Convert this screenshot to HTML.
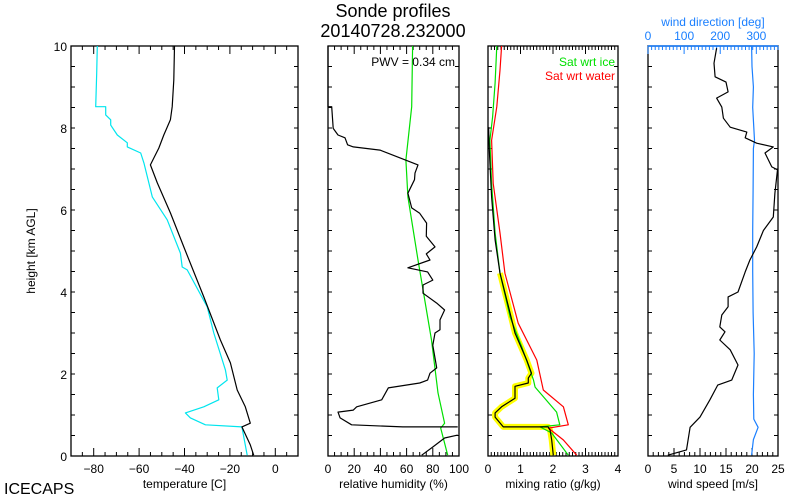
<!DOCTYPE html>
<html><head><meta charset="utf-8"><style>
body{margin:0;background:#fff}
svg{display:block;font-family:"Liberation Sans",sans-serif}
</style></head><body>
<svg id="c" width="800" height="500" viewBox="0 0 800 500">
<text x="393" y="17" font-size="18" text-anchor="middle">Sonde profiles</text>
<text x="393" y="37" font-size="18" text-anchor="middle">20140728.232000</text>
<text x="4" y="494" font-size="16">ICECAPS</text>
<text transform="translate(35,251) rotate(-90)" font-size="12" text-anchor="middle">height [km AGL]</text>
</svg>
<script>
// temperature panel
const tempH=[0.02,0.27,0.71,0.8,1.2,1.61,2.27,2.83,3.88,5.1,5.93,6.66,7.1,7.27,7.51,7.83,8.2,8.52,9.17,10];
const tempT=[-9.5,-11,-14.7,-11,-13.2,-16.8,-19.8,-24.2,-31.5,-40.3,-46.2,-52,-55,-53.5,-51.3,-49.1,-46.2,-45.4,-44.7,-44.4];
const dewH=[0.02,0.71,0.76,0.93,1.05,1.2,1.37,1.66,1.85,2.1,3.0,3.64,4.54,4.61,4.95,5.76,6.32,7.15,7.39,7.54,7.64,7.83,8.07,8.2,8.32,8.52,8.52,9.34,10];
const dewT=[-12.4,-14.7,-30.8,-37.4,-39.6,-31.5,-24.9,-25.6,-21.2,-22,-27.1,-30,-38.8,-41,-41.8,-47.6,-54.2,-57.9,-59.3,-65.2,-65.2,-69.6,-72.5,-72.5,-74.7,-74.7,-79.1,-78.7,-78.4];
// relative humidity panel
const rhH=[0.71,0.71,0.76,0.93,1.07,1.12,1.2,1.37,1.66,1.78,1.85,2.02,2.15,2.39,2.7,3.0,3.08,3.32,3.56,3.73,3.97,4.17,4.29,4.49,4.59,4.78,4.93,5.1,5.36,5.68,5.92,6.05,6.41,6.74,6.9,7.1,7.27,7.46,7.54,7.59,7.76,7.83,7.99,8.52,8.52,10];
const rhV=[99,57,18,9.2,7.6,19.3,21.9,41,46,70,76,77.9,83,81.7,80,81.7,85.5,85.5,89,83,72.5,72.5,80,76,61,77.9,75,81.7,75,75.3,70,63.9,61,66,66.4,68.7,55,39.7,19.3,15,13,7.6,4,2.8,0,0];
const rhLowH=[0.02,0.22,0.44,0.51];
const rhLowV=[71.5,80,89,99];
const rhSatH=[0.02,0.68,0.8,1.54,2.83,4.78,6.32,7.22,8.52,10];
const rhSatV=[91.4,86,89,84,79,68.7,61,59.5,63.9,64.6];
// mixing ratio panel
const mrH=[0.02,0.39,0.63,0.71,0.71,0.95,1.05,1.2,1.41,1.7,1.78,1.9,2.02,2.34,3.0,3.64,4.46,5.27,6.32,7.46,8.02];
const mrV=[2.01,1.96,1.91,1.85,0.47,0.22,0.22,0.42,0.83,0.83,1.24,1.24,1.34,1.19,0.83,0.63,0.37,0.22,0.11,0.04,0.02];
const iceH=[0.02,0.56,0.71,0.76,1.07,1.68,1.85,2.66,3.39,4.46,5.44,6.65,7.7,8.27,9.1,10];
const iceV=[2.47,1.96,1.6,2.21,2.11,1.45,1.4,1.04,0.68,0.37,0.22,0.11,0.06,0.14,0.22,0.27];
const watH=[0.02,0.39,0.68,0.76,1.2,1.61,2.34,3.24,4.46,5.44,6.65,7.7,8.52,9.41,10];
const watV=[2.73,2.32,1.86,2.47,2.32,1.7,1.5,0.93,0.52,0.37,0.16,0.11,0.27,0.37,0.42];
// wind panel
const wsH=[0.02,0.15,0.7,0.95,1.37,1.73,1.85,2.22,2.59,2.83,3.03,3.15,3.44,3.64,3.88,4.0,4.49,4.78,5.1,5.5,5.83,6.41,6.98,7.05,7.39,7.54,7.63,7.76,7.9,8.02,8.24,8.51,8.73,8.88,9.12,9.25,9.58,9.95];
const wsV=[3.8,7.4,8.1,10,11.9,13.4,16.1,17.3,15.8,13.8,14.8,13.8,14.2,15.4,15.4,17.3,18.7,19.6,20.9,22.2,24.1,24.4,24.9,23.8,22.5,24.1,20.9,18.7,19,15.8,14.5,14.2,13.2,15.4,15,12.9,12.7,13.2];
const wdH=[0.02,0.4,0.7,0.9,1.5,2.5,3.5,4.5,5.5,6.5,7.5,7.7,8.5,9.0,9.5,10];
const wdV=[287,292,305,293,292,294,291,290,290,291,292,295,290,292,288,287];
const tempTicks=[-80,-60,-40,-20,0];
const rhTicks=[0,20,40,60,80,100];
const mrTicks=[0,1,2,3,4];
const wsTicks=[0,5,10,15,20,25];
const wdTicks=[0,100,200,300];
const hTicks=[0,2,4,6,8,10];

const svgEl=document.getElementById('c');
const NS='http://www.w3.org/2000/svg';
const Y0=456,Y1=46;
function yOf(h){return Y0-(Y0-Y1)*h/10;}
function mk(tag,attrs,parent){const e=document.createElementNS(NS,tag);for(const k in attrs)e.setAttribute(k,attrs[k]);(parent||svgEl).appendChild(e);return e;}
function ln(x1,y1,x2,y2,col,g){return mk('line',{x1,y1,x2,y2,stroke:col||'#000','stroke-width':1},g);}
function txt(x,yy,s,anchor,col,g,size){const t=mk('text',{x,y:yy,'font-size':size||12,'text-anchor':anchor||'middle',fill:col||'#000'},g);t.textContent=s;return t;}

function panel(name,L,R,xmin,xmax,minor,labels,title,showY){
  const g=mk('g',{});
  
  
  const fx=v=>L+(R-L)*(v-xmin)/(xmax-xmin);
  mk('rect',{x:L,y:Y1,width:R-L,height:Y0-Y1,fill:'none',stroke:'#000','stroke-width':1.3},g);
  for(let h=0.5;h<10;h+=0.5){ln(L,yOf(h),L+4,yOf(h),'#000',g);ln(R,yOf(h),R-4,yOf(h),'#000',g);}
  const n=Math.round((xmax-xmin)/minor);
  for(let i=0;i<=n;i++){const v=xmin+i*minor;const x=fx(v);const big=labels.some(l=>Math.abs(l-v)<1e-6);const len=big?8:4;ln(x,Y0,x,Y0-len,'#000',g);if(name!=='wind')ln(x,Y1,x,Y1+len,'#000',g);}
  labels.forEach(v=>{const t=txt(fx(v),Y0+17,(v<0?'\u2212'+(-v):String(v)),'middle','#000',g);
    
    });
  const tt=txt((L+R)/2,Y0+32,title,'middle','#000',g);
  
  
  if(showY){hTicks.forEach(h=>{const t=txt(L-4,yOf(h)+5,String(h),'end','#000',g);
    
    });}
  return fx;
}
function series(fx,hs,vs,col,name,w,maxH){
  const pts=[];
  hs.forEach((h,i)=>{if(maxH===undefined||h<=maxH)pts.push(fx(vs[i]).toFixed(1)+','+yOf(h).toFixed(1));});
  const p=mk('polyline',{points:pts.join(' '),fill:'none',stroke:col,'stroke-width':w||1.2,'stroke-linejoin':'round'});
  
  
  return p;
}
const fT=panel('temperature',71,298,-90,10,5,tempTicks,'temperature [C]',true);
series(fT,dewH,dewT,'#00e5ee','dewpoint-line');
series(fT,tempH,tempT,'#000','temperature-line');

const fR=panel('humidity',328,459,0,100,5,rhTicks,'relative humidity (%)',false);
series(fR,rhSatH,rhSatV,'#00e000','rh-ice-line');
series(fR,rhH,rhV,'#000','rh-line');
series(fR,rhLowH,rhLowV,'#000','rh-low-line');
const pwv=txt(455,66,'PWV = 0.34 cm','end','#000',null,12);



const fM=panel('mixing',488,618,0,4,0.1,mrTicks,'mixing ratio (g/kg)',false);
series(fM,mrH,mrV,'#ffff00','mixing-ratio-uncertainty',6,4.6);
series(fM,iceH,iceV,'#00e000','sat-ice-line');
series(fM,watH,watV,'#ff0000','sat-water-line');
series(fM,mrH,mrV,'#000','mixing-ratio-line');
const l1=txt(615,66,'Sat wrt ice','end','#00e000',null,12);


const l2=txt(615,80,'Sat wrt water','end','#ff0000',null,12);



const fW=panel('wind',648,778,0,25,1,wsTicks,'wind speed [m/s]',false);
const fD=v=>648+130*v/360;
const wdAxis=mk('g',{});


ln(648,Y1,778,Y1,'#1a7fff',wdAxis).setAttribute('stroke-width',1.5);
for(let v=0;v<=360;v+=10){const big=v%100===0;ln(fD(v),Y1,fD(v),Y1+(big?8:4),'#1a7fff',wdAxis);}
wdTicks.forEach(v=>{const t=txt(fD(v),40,String(v),'middle','#1a7fff',wdAxis);
  
  });
const wt=txt(713,26,'wind direction [deg]','middle','#1a7fff',wdAxis);


series(fD,wdH,wdV,'#1a7fff','wind-direction-line');
series(fW,wsH,wsV,'#000','wind-speed-line');
</script>
</body></html>
